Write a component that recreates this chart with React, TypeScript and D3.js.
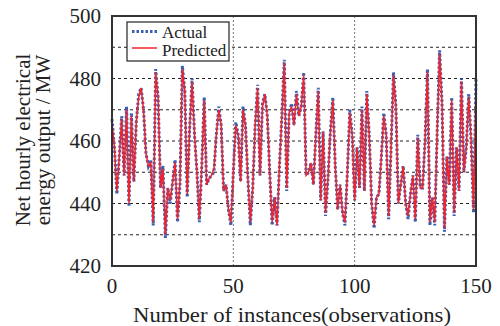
import React from "react";
import * as d3 from "d3";

const actual: number[] = [
  467, 458, 443, 455, 468, 449, 471, 439, 469, 447,
  466, 475, 477, 470, 456, 452, 454, 433, 483, 474,
  445, 452, 429, 445, 440, 447, 454, 434, 446, 484,
  476, 442, 464, 480, 462, 450, 434, 452, 474, 446,
  448, 449, 450, 462, 471, 465, 444, 446, 438, 433,
  450, 466, 462, 447, 471, 465, 448, 433, 445, 465,
  478, 449, 472, 475, 468, 450, 433, 442, 433, 452,
  468, 486, 444, 469, 472, 465, 476, 468, 471, 482,
  449, 450, 453, 446, 462, 477, 441, 463, 436, 448,
  463, 474, 452, 438, 446, 437, 433, 450, 470, 462,
  441, 458, 445, 471, 444, 476, 462, 440, 432, 442,
  443, 455, 469, 462, 435, 458, 482, 471, 440, 446,
  452, 440, 435, 443, 449, 434, 462, 445, 445, 460,
  483, 433, 442, 433, 463, 489, 472, 431, 455, 446,
  474, 436, 458, 444, 480, 450, 458, 475, 460, 437,
  480,
];

const predicted: number[] = [
  466, 458, 444, 455, 467, 449, 470, 440, 468, 447,
  466, 474, 477, 470, 456, 452, 453, 434, 482, 474,
  445, 451, 430, 445, 441, 447, 453, 435, 447, 483,
  476, 443, 464, 479, 462, 450, 435, 452, 473, 446,
  448, 449, 451, 462, 470, 465, 444, 446, 438, 434,
  450, 465, 462, 447, 470, 465, 448, 434, 445, 465,
  477, 449, 471, 475, 468, 450, 434, 442, 433, 452,
  468, 485, 445, 469, 471, 465, 475, 468, 471, 481,
  449, 450, 453, 446, 462, 476, 441, 463, 437, 448,
  463, 473, 452, 438, 446, 437, 434, 450, 469, 462,
  441, 458, 445, 470, 444, 475, 462, 440, 433, 442,
  443, 455, 468, 462, 436, 458, 481, 471, 440, 446,
  452, 440, 436, 443, 449, 435, 461, 445, 445, 460,
  482, 434, 442, 434, 463, 488, 472, 432, 455, 446,
  473, 437, 458, 444, 479, 450, 458, 474, 460, 438,
  479,
];

const xTicks: number[] = [0, 50, 100, 150];
const yTicks: number[] = [420, 440, 460, 480, 500];
const yGrid: number[] = [430, 440, 450, 460, 470, 480, 490];
const xGrid: number[] = [50, 100];

const W = 500;
const H = 326;
const left = 112;
const right = 476;
const top = 16;
const bottom = 266;
const font = "'Liberation Serif', 'Times New Roman', serif";

export default function App() {
  const x = d3.scaleLinear().domain([0, 150]).range([left, right]);
  const y = d3.scaleLinear().domain([420, 500]).range([bottom, top]);
  const line = d3
    .line<number>()
    .x((_, i) => x(i))
    .y((d) => y(d));

  return (
    <svg
      width={W}
      height={H}
      style={{ position: "absolute", left: 0, top: 0 }}
      fontFamily={font}
    >
      <rect x={0} y={0} width={W} height={H} fill="#fff" />
      {yGrid.map((v) => (
        <line
          key={"yg" + v}
          x1={left}
          x2={right}
          y1={y(v)}
          y2={y(v)}
          stroke="#222"
          strokeWidth={1}
          strokeDasharray="3,3"
        />
      ))}
      {xGrid.map((v) => (
        <line
          key={"xg" + v}
          x1={x(v)}
          x2={x(v)}
          y1={top}
          y2={bottom}
          stroke="#777"
          strokeWidth={1}
          strokeDasharray="2,2"
        />
      ))}
      <path
        d={line(actual) || ""}
        fill="none"
        stroke="#3a5fb0"
        strokeWidth={3}
        strokeDasharray="2.5,2"
      />
      <path
        d={line(predicted) || ""}
        fill="none"
        stroke="#f0242e"
        strokeWidth={1.5}
      />
      <rect
        x={left}
        y={top}
        width={right - left}
        height={bottom - top}
        fill="none"
        stroke="#333"
        strokeWidth={2}
      />
      {yTicks.map((v) => (
        <text
          key={"yt" + v}
          x={101}
          y={y(v)}
          dy="0.35em"
          textAnchor="end"
          fontSize={21}
          fill="#222"
        >
          {v}
        </text>
      ))}
      {xTicks.map((v) => (
        <text
          key={"xt" + v}
          x={x(v)}
          y={293}
          textAnchor="middle"
          fontSize={21}
          fill="#222"
        >
          {v}
        </text>
      ))}
      <text
        x={292}
        y={322}
        textAnchor="middle"
        fontSize={21}
        textLength={318}
        lengthAdjust="spacingAndGlyphs"
        fill="#222"
      >
        Number of instances(observations)
      </text>
      <g transform="translate(30,140) rotate(-90)">
        <text x={0} y={0} textAnchor="middle" fontSize={21} fill="#222">
          Net hourly electrical
        </text>
        <text x={0} y={20} textAnchor="middle" fontSize={21} fill="#222">
          energy output / MW
        </text>
      </g>
      <rect
        x={127}
        y={22}
        width={102}
        height={39}
        fill="#fff"
        stroke="#222"
        strokeWidth={1.2}
      />
      <line
        x1={132}
        x2={157}
        y1={31.5}
        y2={31.5}
        stroke="#3a5fb0"
        strokeWidth={3}
        strokeDasharray="2.5,2"
      />
      <line
        x1={132}
        x2={157}
        y1={48}
        y2={48}
        stroke="#f0242e"
        strokeWidth={1.5}
      />
      <text x={162} y={37.5} fontSize={17} fill="#222">
        Actual
      </text>
      <text x={162} y={55.5} fontSize={17} fill="#222">
        Predicted
      </text>
    </svg>
  );
}
